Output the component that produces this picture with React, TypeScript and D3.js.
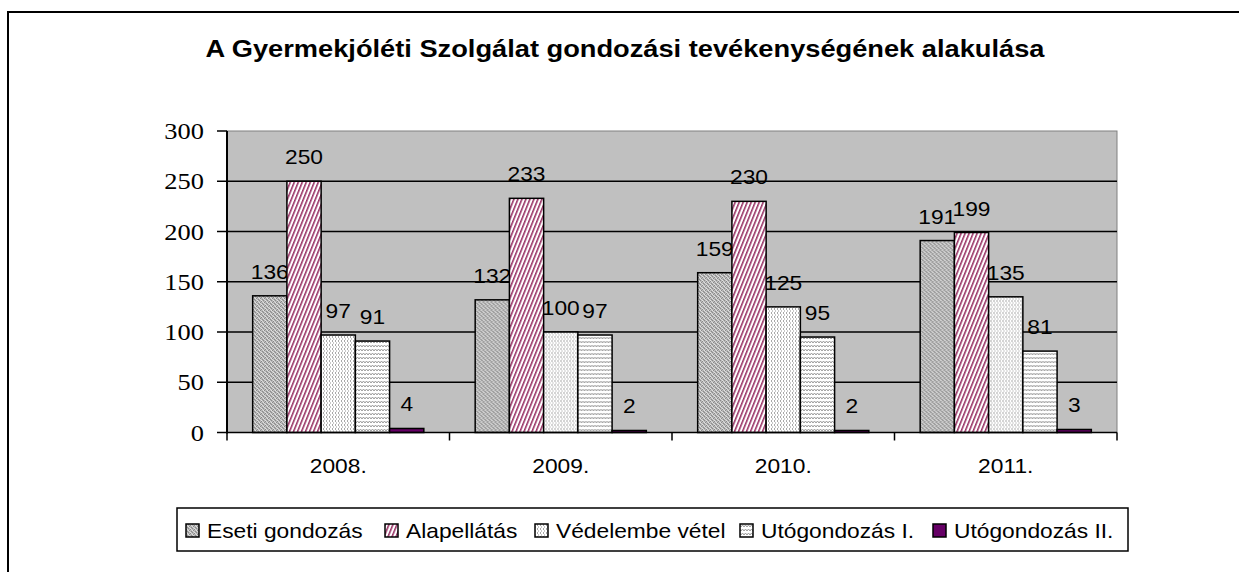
import React from "react";
import * as d3 from "d3";

const years = ["2008.", "2009.", "2010.", "2011."];
const seriesNames = ["Eseti gondozás", "Alapellátás", "Védelembe vétel", "Utógondozás I.", "Utógondozás II."];
const eseti = [136, 132, 159, 191];
const alap = [250, 233, 230, 199];
const vedelem = [97, 100, 125, 135];
const uto1 = [91, 97, 95, 81];
const uto2 = [4, 2, 2, 3];
const seriesValues = [eseti, alap, vedelem, uto1, uto2];
const yTicks = [0, 50, 100, 150, 200, 250, 300];
const title = "A Gyermekjóléti Szolgálat gondozási tevékenységének alakulása";

const fills = ["url(#pEseti)", "url(#pAlap)", "url(#pVed)", "url(#pUto1)", "#660066"];
const legendX = [186, 385, 535, 740, 933];

const SX = 1.15;
const ARIAL = "'Liberation Sans', Arial, sans-serif";
const TIMES = "'Liberation Serif', 'Times New Roman', serif";

function T({ x, y, size, anchor = "middle", bold = false, font = ARIAL, children }: any) {
  return (
    <text
      transform={`translate(${x},${y}) scale(${SX},1)`}
      textAnchor={anchor}
      fontFamily={font}
      fontSize={size}
      fontWeight={bold ? "bold" : "normal"}
      fill="#000"
    >
      {children}
    </text>
  );
}

export default function App() {
  const left = 227, right = 1117, top = 131, bottom = 432.5;
  const x0 = d3.scaleBand<string>().domain(years).range([left, right]).padding(0);
  const x1 = d3
    .scaleBand<string>()
    .domain(seriesNames)
    .range([0, x0.bandwidth()])
    .paddingInner(0)
    .paddingOuter(0.75);
  const y = d3.scaleLinear().domain([0, 300]).range([bottom, top]);

  return (
    <svg
      width={1239}
      height={572}
      style={{ position: "absolute", left: 0, top: 0, background: "#fff" }}
    >
      <defs>
        <pattern id="pEseti" width="4" height="4" patternUnits="userSpaceOnUse">
          <rect width="4" height="4" fill="#b8b8b8" />
          <rect x="0" y="0" width="1" height="1" fill="#8a8a8a" />
          <rect x="2" y="1" width="1" height="1" fill="#8a8a8a" />
          <rect x="1" y="2" width="1" height="1" fill="#8a8a8a" />
          <rect x="3" y="3" width="1" height="1" fill="#8a8a8a" />
          <rect x="2" y="0" width="1" height="1" fill="#e2e2e2" />
          <rect x="0" y="2" width="1" height="1" fill="#e2e2e2" />
          <rect x="3" y="1" width="1" height="1" fill="#d8d8d8" />
          <rect x="1" y="3" width="1" height="1" fill="#d8d8d8" />
        </pattern>
        <pattern
          id="pAlap"
          width="4"
          height="4"
          patternUnits="userSpaceOnUse"
          patternTransform="skewX(-22)"
        >
          <rect width="4" height="4" fill="#fff" />
          <rect x="0" y="0" width="1.7" height="4" fill="#993366" />
        </pattern>
        <pattern id="pVed" width="3" height="4" patternUnits="userSpaceOnUse">
          <rect width="3" height="4" fill="#fff" />
          <rect x="0" y="0" width="1" height="2" fill="#a8a8a8" />
          <rect x="1" y="2" width="1" height="2" fill="#c8c8c8" />
        </pattern>
        <pattern id="pUto1" width="6" height="4" patternUnits="userSpaceOnUse">
          <rect width="6" height="4" fill="#fff" />
          <path d="M0,3 L1.5,1 L3,3 L4.5,1 L6,3" stroke="#9a9a9a" strokeWidth="1" fill="none" />
        </pattern>
      </defs>

      {/* outer chart frame */}
      <rect x={8} y={12} width={1400} height={700} fill="#fff" stroke="#000" strokeWidth={2} />

      {/* title */}
      <T x={625} y={57} size={23.7} bold>
        {title}
      </T>

      {/* plot area */}
      <rect x={left} y={top} width={right - left} height={bottom - top} fill="#c0c0c0" stroke="#808080" strokeWidth={1} />

      {/* gridlines */}
      {yTicks.slice(1, -1).map((t) => (
        <line key={t} x1={left} x2={right} y1={y(t)} y2={y(t)} stroke="#000" strokeWidth={1.3} />
      ))}

      {/* bars */}
      {years.map((yr, i) => (
        <g key={yr} transform={`translate(${x0(yr)},0)`}>
          {seriesNames.map((s, j) => {
            const v = seriesValues[j][i];
            const bx = x1(s)!;
            const by = y(v);
            return (
              <g key={s}>
                <rect
                  x={bx}
                  y={by}
                  width={x1.bandwidth()}
                  height={bottom - by}
                  fill={fills[j]}
                  stroke="#000"
                  strokeWidth={1.5}
                />
                <T x={bx + x1.bandwidth() / 2} y={by - 17} size={19.8}>
                  {v}
                </T>
              </g>
            );
          })}
        </g>
      ))}

      {/* y axis */}
      <line x1={left} x2={left} y1={top} y2={bottom + 1} stroke="#000" strokeWidth={2} />
      {yTicks.map((t) => (
        <g key={t}>
          <line x1={left - 10} x2={left} y1={y(t)} y2={y(t)} stroke="#000" strokeWidth={1.5} />
          <T x={204} y={y(t) + 8} size={23} anchor="end" font={TIMES}>
            {t}
          </T>
        </g>
      ))}

      {/* x axis */}
      <line x1={left} x2={right} y1={bottom} y2={bottom} stroke="#000" strokeWidth={1.5} />
      {[...years.map((yr) => x0(yr)!), right].map((xx, i) => (
        <line key={i} x1={xx} x2={xx} y1={bottom} y2={bottom + 8} stroke="#000" strokeWidth={1.5} />
      ))}
      {years.map((yr) => (
        <T key={yr} x={x0(yr)! + x0.bandwidth() / 2} y={473} size={19.8}>
          {yr}
        </T>
      ))}

      {/* legend */}
      <rect x={177} y={508} width={951} height={43} fill="#fff" stroke="#000" strokeWidth={1.5} />
      {seriesNames.map((s, j) => (
        <g key={s}>
          <rect x={legendX[j]} y={524} width={13} height={13} fill={fills[j]} stroke="#000" strokeWidth={1.5} />
          <T x={legendX[j] + 21} y={538} size={19.8} anchor="start">
            {s}
          </T>
        </g>
      ))}
    </svg>
  );
}
